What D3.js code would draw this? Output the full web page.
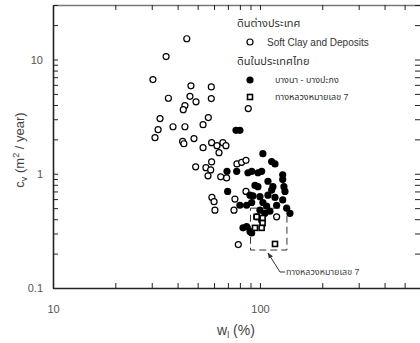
<!DOCTYPE html>
<html>
<head>
<meta charset="utf-8">
<script src="https://cdn.jsdelivr.net/npm/d3@7"></script>
<style>
  body { margin: 0; background: #fff; }
  text { font-family: "Liberation Sans", Arial, "Noto Sans Thai", sans-serif; }
</style>
</head>
<body>
<svg id="chart" width="420" height="343"></svg>
<script>
// soft clay and deposits (foreign soils) - open circles
var softClayWl = [44.3, 35.2, 30.4, 58.2, 46.4, 36.1, 45.9, 49.1, 58.2, 43.4, 42.6, 32.9, 56.3, 87.8,
  32.2, 31.1, 38.0, 43.4, 53.1, 42.3, 42.9, 48.0, 53.1, 58.4, 62.0, 66.2, 68.5, 63.4, 58.4, 48.9,
  54.8, 57.8, 56.1, 64.6, 69.0, 77.4, 81.6, 85.6, 58.6, 60.0, 60.6, 74.9, 75.7, 85.6, 120.4, 78.6];
var softClayCv = [15.2, 10.6, 6.68, 5.76, 5.88, 4.58, 4.76, 4.26, 4.55, 3.95, 3.64, 3.04, 3.10, 3.72,
  2.43, 2.07, 2.58, 2.58, 2.69, 1.92, 1.83, 2.03, 1.69, 1.87, 1.76, 1.87, 1.76, 1.53, 1.27, 1.15,
  1.13, 1.08, 0.96, 0.94, 0.92, 1.22, 1.26, 1.31, 0.62, 0.57, 0.48, 0.48, 0.60, 0.70, 0.42, 0.24];

// bangna - bangpakong - filled circles
var bangnaWl = [76.6, 80.0, 103.3, 113.9, 118.2, 69.3, 77.2, 87.5, 91.2, 97.8, 101.9, 109.3, 94.6,
  97.8, 115.5, 113.9, 69.8, 89.5, 92.5, 100, 109.3, 118.2, 80.0, 86.2, 91.2, 103.3, 107.7, 120.4,
  100, 105.7, 111.7, 96.4, 101.9, 86.2, 82.8, 89.5, 91.2, 128.8, 128.8, 130.6, 132.1, 128.8, 134.6, 139.6];
var bangnaCv = [2.40, 2.40, 1.50, 1.28, 1.22, 1.05, 1.05, 1.02, 1.05, 1.02, 1.05, 0.86, 0.79,
  0.77, 0.77, 0.72, 0.70, 0.65, 0.64, 0.63, 0.65, 0.62, 0.53, 0.53, 0.56, 0.56, 0.52, 0.53,
  0.48, 0.45, 0.47, 0.42, 0.39, 0.345, 0.336, 0.312, 0.303, 0.98, 0.89, 0.77, 0.70, 0.59, 0.50, 0.45];

// highway no. 7 - squares
var highwayWl = [96.4, 103.0, 103.0, 94.6, 101.9, 118.2];
var highwayCv = [0.42, 0.41, 0.37, 0.336, 0.336, 0.243];

// dashed box around highway 7 data, [wl0, wl1], [cv0, cv1]
var boxWl = [90, 135];
var boxCv = [0.215, 0.5];

var xDomain = [10, 600];
var yDomain = [0.1, 30];
var xLabels = [10, 100];
var yLabels = [0.1, 1, 10];

var svg = d3.select("#chart");
var margin = {top: 5, left: 53},
    width = 368,
    height = 283;

var x = d3.scaleLog().domain(xDomain).range([margin.left, margin.left + width]);
var y = d3.scaleLog().domain(yDomain).range([margin.top + height, margin.top]);

var fmtX = function(d) { return xLabels.indexOf(d) >= 0 ? d3.format("")(d) : ""; };
var fmtY = function(d) { return yLabels.some(function(v) { return Math.abs(v - d) < 1e-9; }) ? String(d) : ""; };

function styleAxis(g, col) {
  g.select(".domain").attr("stroke", col).attr("stroke-width", 1.6);
  g.selectAll(".tick line").attr("stroke", "#222").attr("stroke-width", 1);
  g.selectAll(".tick text").attr("fill", "#555").attr("font-size", 11);
}

svg.append("g")
    .attr("transform", "translate(0," + (margin.top + height) + ")")
    .call(d3.axisBottom(x).tickSizeInner(-5).tickSizeOuter(0).tickPadding(17).tickFormat(fmtX))
    .call(styleAxis, "#222");

svg.append("g")
    .attr("transform", "translate(0," + margin.top + ")")
    .call(d3.axisTop(x).tickSizeInner(-5).tickSizeOuter(0).tickFormat(""))
    .call(styleAxis, "#777");

svg.append("g")
    .attr("transform", "translate(" + margin.left + ",0)")
    .call(d3.axisLeft(y).tickSizeInner(-5).tickSizeOuter(0).tickPadding(10).tickFormat(fmtY))
    .call(styleAxis, "#222");

svg.append("g")
    .attr("transform", "translate(" + (margin.left + width) + ",0)")
    .call(d3.axisRight(y).tickSizeInner(-6).tickSizeOuter(0).tickFormat(""))
    .call(styleAxis, "#777");

// axis titles
var yt = svg.append("text")
    .attr("transform", "translate(24,150) rotate(-90)")
    .attr("text-anchor", "middle")
    .attr("font-size", 13)
    .attr("fill", "#444");
yt.append("tspan").text("c");
yt.append("tspan").attr("font-size", 9).attr("dy", 3).text("v");
yt.append("tspan").attr("dy", -3).text(" (m");
yt.append("tspan").attr("font-size", 9).attr("dy", -5).text("2");
yt.append("tspan").attr("dy", 5).text(" / year)");

var xt = svg.append("text")
    .attr("x", 236).attr("y", 335)
    .attr("text-anchor", "middle")
    .attr("font-size", 14)
    .attr("fill", "#444");
xt.append("tspan").text("w");
xt.append("tspan").attr("font-size", 9).attr("dy", 3).text("l");
xt.append("tspan").attr("dy", -3).text(" (%)");

// dashed box
svg.append("rect")
    .attr("x", x(boxWl[0]))
    .attr("y", y(boxCv[1]))
    .attr("width", x(boxWl[1]) - x(boxWl[0]))
    .attr("height", y(boxCv[0]) - y(boxCv[1]))
    .attr("fill", "none")
    .attr("stroke", "#333")
    .attr("stroke-width", 1)
    .attr("stroke-dasharray", "7,4");

// points
svg.append("g").selectAll("circle")
    .data(d3.zip(softClayWl, softClayCv))
  .enter().append("circle")
    .attr("cx", function(d) { return x(d[0]); })
    .attr("cy", function(d) { return y(d[1]); })
    .attr("r", 3)
    .attr("fill", "#fff")
    .attr("stroke", "#000")
    .attr("stroke-width", 1.2);

svg.append("g").selectAll("circle")
    .data(d3.zip(bangnaWl, bangnaCv))
  .enter().append("circle")
    .attr("cx", function(d) { return x(d[0]); })
    .attr("cy", function(d) { return y(d[1]); })
    .attr("r", 3.6)
    .attr("fill", "#000");

svg.append("g").selectAll("rect")
    .data(d3.zip(highwayWl, highwayCv))
  .enter().append("rect")
    .attr("x", function(d) { return x(d[0]) - 2.5; })
    .attr("y", function(d) { return y(d[1]) - 2.5; })
    .attr("width", 5).attr("height", 5)
    .attr("fill", "#fff")
    .attr("stroke", "#000")
    .attr("stroke-width", 1.6);

// annotation arrow + label
svg.append("defs").append("marker")
    .attr("id", "arr")
    .attr("viewBox", "0 0 10 10")
    .attr("refX", 9).attr("refY", 5)
    .attr("markerWidth", 6).attr("markerHeight", 6)
    .attr("orient", "auto")
  .append("path").attr("d", "M0,1L10,5L0,9z").attr("fill", "#333");

svg.append("path")
    .attr("d", "M285,272L280,272L268,253")
    .attr("fill", "none")
    .attr("stroke", "#333")
    .attr("stroke-width", 1)
    .attr("marker-end", "url(#arr)");

svg.append("text")
    .attr("x", 286).attr("y", 272).attr("dy", "0.35em")
    .attr("font-size", 9)
    .attr("fill", "#444")
    .text("ทางหลวงหมายเลข 7");

// legend
var lg = svg.append("g").attr("fill", "#333");
lg.append("text").attr("x", 237).attr("y", 23).attr("dy", "0.35em").attr("font-size", 11).text("ดินต่างประเทศ");
lg.append("circle").attr("cx", 250).attr("cy", 42).attr("r", 3).attr("fill", "#fff").attr("stroke", "#000").attr("stroke-width", 1.2);
lg.append("text").attr("x", 267).attr("y", 42).attr("dy", "0.35em").attr("font-size", 10).text("Soft Clay and Deposits");
lg.append("text").attr("x", 237).attr("y", 61).attr("dy", "0.35em").attr("font-size", 11).text("ดินในประเทศไทย");
lg.append("circle").attr("cx", 250).attr("cy", 80).attr("r", 3.6).attr("fill", "#000");
lg.append("text").attr("x", 275).attr("y", 80).attr("dy", "0.35em").attr("font-size", 9).text("บางนา - บางปะกง");
lg.append("rect").attr("x", 247.5).attr("y", 94.5).attr("width", 5).attr("height", 5).attr("fill", "#fff").attr("stroke", "#000").attr("stroke-width", 1.6);
lg.append("text").attr("x", 275).attr("y", 97).attr("dy", "0.35em").attr("font-size", 9).text("ทางหลวงหมายเลข 7");
</script>
</body>
</html>
